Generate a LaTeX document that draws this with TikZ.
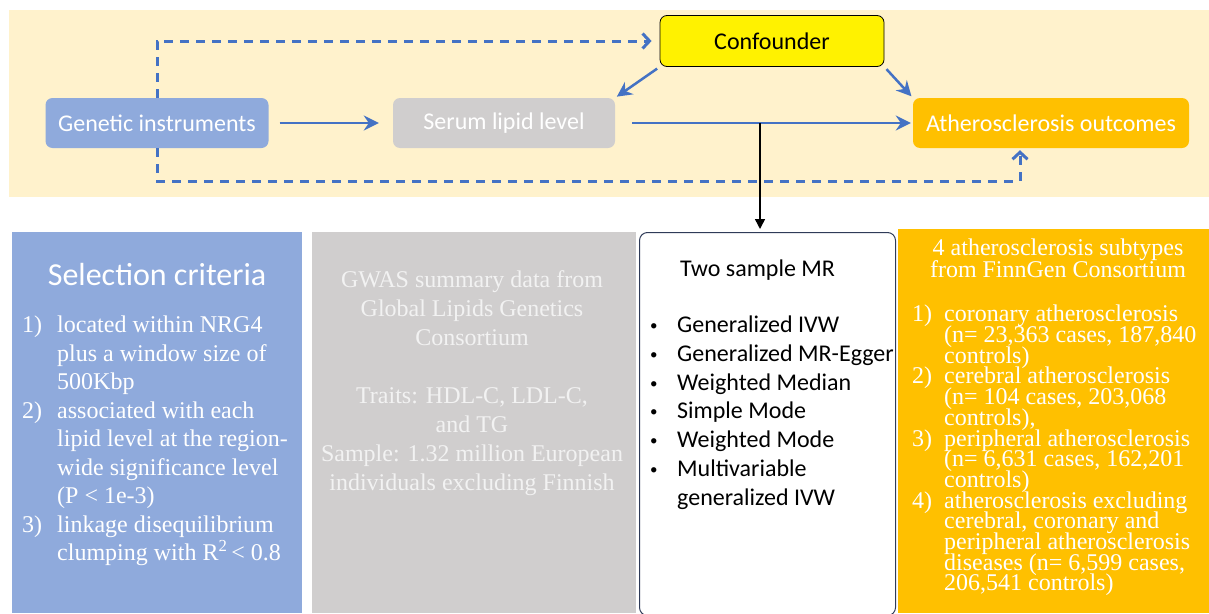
\documentclass[tikz,border=0pt]{standalone}
\usepackage{fontspec}
\setmainfont{Liberation Serif}
\newfontfamily\calibri{Carlito}
\usepackage{tikz}
\usetikzlibrary{arrows.meta}
\usetikzlibrary{positioning}

\definecolor{bandfill}{HTML}{FFF2CC}
\definecolor{instblue}{HTML}{8FAADC}
\definecolor{lipidgrey}{HTML}{D0CECE}
\definecolor{outorange}{HTML}{FFC000}
\definecolor{arrowblue}{HTML}{4472C4}
\definecolor{mrframe}{HTML}{2F3B58}

\newcommand{\num}[2][35pt]{\makebox[#1][l]{#2}}
\newcommand{\mrdot}{\raisebox{2pt}{\fontsize{15}{15}\selectfont\textbullet}}
\newcommand{\tightlines}{\lineskiplimit=-50pt\relax}

\begin{document}
\begin{tikzpicture}[x=1pt, y=-1pt,
    box/.style={rounded corners=7pt, minimum height=50pt, inner sep=0pt,
                font=\calibri\fontsize{24}{28}\selectfont, text=white},
    panel/.style={anchor=north west, inner sep=0pt},
    serif/.style={inner sep=0pt, text=white},
    flow/.style={arrowblue, line width=2.5pt, -{Stealth[length=15pt,width=15pt,inset=5pt]}},
    dflow/.style={arrowblue, line width=3pt, dash pattern=on 9pt off 7pt,
                  -{Straight Barb[length=7pt,width=15pt]}}]
    \useasboundingbox (0,0) rectangle (1209,613);
    \fill[bandfill] (9,10) rectangle (1209,197);

    % top row
    \node[box, fill=instblue, minimum width=223pt] (gen) at (157,123) {Genetic instruments};
    \node[box, fill=lipidgrey, minimum width=222pt] (lipid) at (504,123) {Serum lipid level};
    \node[box, fill=yellow, draw=black, line width=0.8pt, text=black, minimum width=224pt, minimum height=51pt] (conf) at (772,41) {Confounder};
    \node[box, fill=outorange, minimum width=276pt] (ath) at (1051,123) {Atherosclerosis outcomes};

    \draw[flow, shorten <=11pt, shorten >=14pt] (gen) -- (lipid);
    \draw[flow, shorten <=17pt, shorten >=2pt] (lipid) -- (ath);
    \draw[flow, shorten <=3pt, shorten >=2pt] (conf.south west) -- (lipid.north east);
    \draw[flow, shorten <=3pt, shorten >=2pt] (conf.south east) -- (ath.north west);
    \draw[dflow, shorten >=8pt] (gen.north) |- (conf.west);
    \coordinate (dturn) at (1020,181);
    \draw[dflow, shorten >=2pt] (gen.south) |- (dturn) -- (dturn |- ath.south);

    % bottom panels
    \node[panel, fill=instblue, minimum width=290pt, minimum height=381pt] (sel) at (12,232) {};
    \node[panel, fill=lipidgrey, minimum width=324pt, minimum height=381pt] (gwas) at (312,232) {};
    \node[panel, draw=mrframe, line width=1pt, rounded corners=8pt, minimum width=256pt, minimum height=383pt] (mr) at (639,232) {};
    \node[panel, fill=outorange, minimum width=311pt, minimum height=384pt] (sub) at (898,229) {};

    \coordinate (split) at (760,123);
    \draw[black, line width=1.5pt, -{Triangle[length=10pt,width=10pt]}, shorten >=3pt] (split) -- (split |- mr.north);

    % panel texts
    \node[serif, font=\calibri\fontsize{32}{36}\selectfont] (seltitle) at (157,275) {Selection criteria};
    \node[serif, panel, align=left, font=\fontsize{24}{28.5}\selectfont] (sellist) at (22,316) {%
        \num{1)}located within NRG4\\
        \num{}plus a window size of\\
        \num{}500Kbp\\
        \num{2)}associated with each\\
        \num{}lipid level at the region-\\
        \num{}wide significance level\\
        \num{}(P < 1e-3)\\
        \num{3)}linkage disequilibrium\\
        \num{}clumping with R\textsuperscript{2}\,< 0.8};

    \node[serif, anchor=north, align=center, text=white!95!black, font=\fontsize{24}{29}\selectfont] (gwastxt) at (472,270) {%
        GWAS summary data from\\
        Global Lipids Genetics\\
        Consortium\\[29pt]
        Traits: HDL-C, LDL-C,\\
        and TG\\
        Sample: 1.32 million European\\
        individuals excluding Finnish};

    \node[serif, anchor=west, text=black, font=\calibri\fontsize{24}{28}\selectfont] (mrtitle) at (680,270) {Two sample MR};
    \node[serif, panel, align=left, text=black, font=\calibri\fontsize{24}{28.7}\selectfont] (mrlist) at (646,316) {%
        \num[31pt]{\,\mrdot}Generalized IVW\\
        \num[31pt]{\,\mrdot}Generalized MR-Egger\\
        \num[31pt]{\,\mrdot}Weighted Median\\
        \num[31pt]{\,\mrdot}Simple Mode\\
        \num[31pt]{\,\mrdot}Weighted Mode\\
        \num[31pt]{\,\mrdot}Multivariable\\
        \num[31pt]{}generalized IVW};

    \node[serif, anchor=north, align=center, font={\fontsize{24}{22}\selectfont\tightlines}] (subtitle) at (1058,239) {%
        4 atherosclerosis subtypes\\
        from FinnGen Consortium};
    \node[serif, panel, align=left, font={\fontsize{24}{20.7}\selectfont\tightlines}] (sublist) at (912,305) {%
        \num[32pt]{1)}coronary atherosclerosis\\
        \num[32pt]{}(n= 23,363 cases, 187,840\\
        \num[32pt]{}controls)\\
        \num[32pt]{2)}cerebral atherosclerosis\\
        \num[32pt]{}(n= 104 cases, 203,068\\
        \num[32pt]{}controls),\\
        \num[32pt]{3)}peripheral atherosclerosis\\
        \num[32pt]{}(n= 6,631 cases, 162,201\\
        \num[32pt]{}controls)\\
        \num[32pt]{4)}atherosclerosis excluding\\
        \num[32pt]{}cerebral, coronary and\\
        \num[32pt]{}peripheral atherosclerosis\\
        \num[32pt]{}diseases (n= 6,599 cases,\\
        \num[32pt]{}206,541 controls)};
\end{tikzpicture}
\end{document}
